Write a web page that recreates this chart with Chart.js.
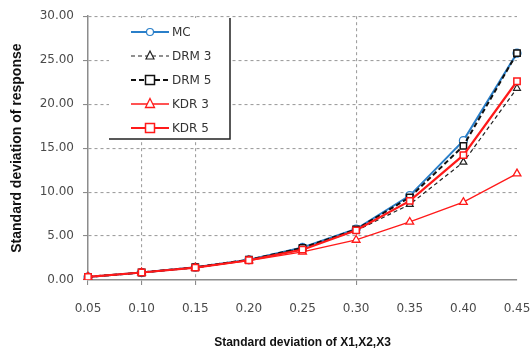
<!DOCTYPE html>
<html lang="en">
<head>
<meta charset="UTF-8">
<title>Standard deviation of response</title>
<script src="https://cdn.jsdelivr.net/npm/chart.js"></script>
<style>
  html, body { margin: 0; padding: 0; background: #fff; }
  #wrap { width: 532px; height: 356px; }
</style>
</head>
<body>
<div id="wrap"><canvas id="myChart" width="532" height="356"></canvas></div>

<script>
// standard deviation of the inputs X1,X2,X3
const sdInputs = ['0.05', '0.10', '0.15', '0.20', '0.25', '0.30', '0.35', '0.40', '0.45'];

// standard deviation of the response for each method
const mc   = [0.35, 0.85, 1.45, 2.30, 3.70, 5.80, 9.60, 15.85, 25.80];
const drm3 = [0.35, 0.85, 1.40, 2.25, 3.60, 5.60, 8.60, 13.40, 21.80];
const drm5 = [0.35, 0.85, 1.45, 2.30, 3.65, 5.75, 9.40, 15.25, 25.80];
const kdr3 = [0.35, 0.85, 1.40, 2.20, 3.20, 4.55, 6.60, 8.85, 12.10];
const kdr5 = [0.35, 0.85, 1.40, 2.25, 3.45, 5.65, 9.00, 14.20, 22.60];

// only these x positions carry a vertical grid line
const xGridAt = [1, 2, 5];

const gridGray = '#a0a0a0';
const axisGray = '#8c8c8c';

function drawMarker(ctx, style, x, y, r) {
  if (style === 'rect') {
    ctx.rect(x - r, y - r, 2 * r, 2 * r);
  } else if (style === 'triangle') {
    ctx.moveTo(x, y - r - 1);
    ctx.lineTo(x + r, y + r - 1);
    ctx.lineTo(x - r, y + r - 1);
    ctx.closePath();
  } else {
    ctx.arc(x, y, r - 0.5, 0, Math.PI * 2);
  }
}

// boxed legend in the upper left with line + marker samples
const boxLegend = {
  id: 'boxLegend',
  afterDraw(chart) {
    const ctx = chart.ctx;
    const box = { l: 109, t: 18, r: 230, b: 139 };
    ctx.save();
    ctx.fillStyle = '#fff';
    ctx.fillRect(box.l, box.t, box.r - box.l, box.b - box.t);
    ctx.strokeStyle = '#222';
    ctx.lineWidth = 1.5;
    ctx.beginPath();
    ctx.moveTo(box.r, box.t);
    ctx.lineTo(box.r, box.b);
    ctx.lineTo(box.l, box.b);
    ctx.stroke();

    const rowY = [32, 56, 80, 104, 128];
    chart.data.datasets.forEach((ds, i) => {
      const y = rowY[i];
      ctx.strokeStyle = ds.borderColor;
      ctx.lineWidth = ds.borderWidth;
      ctx.setLineDash(ds.borderDash || []);
      ctx.beginPath();
      ctx.moveTo(131, y);
      ctx.lineTo(169, y);
      ctx.stroke();
      ctx.setLineDash([]);
      ctx.fillStyle = '#fff';
      ctx.strokeStyle = ds.pointBorderColor;
      ctx.lineWidth = ds.pointBorderWidth;
      ctx.beginPath();
      drawMarker(ctx, ds.pointStyle, 150, y, ds.pointRadius);
      ctx.fill();
      ctx.stroke();
      ctx.fillStyle = '#333';
      ctx.font = '12px "DejaVu Sans"';
      ctx.textBaseline = 'middle';
      ctx.fillText(ds.label, 172, y + 1);
    });
    ctx.restore();
  }
};

const ctx = document.getElementById('myChart').getContext('2d');
new Chart(ctx, {
  type: 'line',
  data: {
    labels: sdInputs,
    datasets: [
      {
        label: 'MC', data: mc, order: 5,
        borderColor: '#2a7fc9', borderWidth: 2,
        pointStyle: 'circle', pointRadius: 4, pointBorderWidth: 1.2,
        pointBorderColor: '#2a7fc9', pointBackgroundColor: '#fff'
      },
      {
        label: 'DRM 3', data: drm3, order: 4,
        borderColor: '#222', borderWidth: 1.2, borderDash: [4, 3],
        pointStyle: 'triangle', pointRadius: 4, pointBorderWidth: 1.2,
        pointBorderColor: '#222', pointBackgroundColor: '#fff'
      },
      {
        label: 'DRM 5', data: drm5, order: 3,
        borderColor: '#111', borderWidth: 2, borderDash: [5, 3],
        pointStyle: 'rect', pointRadius: 4.5, pointBorderWidth: 1.5,
        pointBorderColor: '#111', pointBackgroundColor: '#fff'
      },
      {
        label: 'KDR 3', data: kdr3, order: 2,
        borderColor: '#ff1a1a', borderWidth: 1.3,
        pointStyle: 'triangle', pointRadius: 4.5, pointBorderWidth: 1.3,
        pointBorderColor: '#ff1a1a', pointBackgroundColor: '#fff'
      },
      {
        label: 'KDR 5', data: kdr5, order: 1,
        borderColor: '#ff1a1a', borderWidth: 2.2,
        pointStyle: 'rect', pointRadius: 4.5, pointBorderWidth: 1.5,
        pointBorderColor: '#ff1a1a', pointBackgroundColor: '#fff'
      }
    ]
  },
  options: {
    responsive: false,
    animation: false,
    devicePixelRatio: 1,
    layout: { padding: { top: 15, right: 0, left: 0, bottom: 0 } },
    plugins: {
      legend: { display: false },
      tooltip: { enabled: false }
    },
    elements: { line: { tension: 0 } },
    scales: {
      x: {
        type: 'category',
        offset: false,
        afterFit: s => {
          s.height = 76;
          s.paddingLeft = 0;
          s.paddingRight = 15;
        },
        border: { color: axisGray, width: 1.5, dash: [3, 3] },
        grid: {
          color: c => xGridAt.includes(c.index) ? gridGray : 'rgba(0,0,0,0)',
          tickColor: c => (c.index === 0 || xGridAt.includes(c.index)) ? axisGray : 'rgba(0,0,0,0)',
          lineWidth: 1.1,
          tickLength: 5,
          tickBorderDash: []
        },
        ticks: {
          color: '#4a4a4a',
          font: { family: '"DejaVu Sans"', size: 12 },
          padding: 17,
          maxRotation: 0,
          autoSkip: false
        },
        title: {
          display: true,
          text: 'Standard deviation of X1,X2,X3',
          color: '#111',
          font: { family: '"Liberation Sans"', size: 12, weight: 'bold' },
          padding: { top: 0, bottom: 6 }
        }
      },
      y: {
        min: 0,
        max: 30,
        afterFit: s => { s.width = 88; },
        border: { color: axisGray, width: 1.5, dash: [3, 3] },
        grid: {
          color: c => c.tick && c.tick.value === 0 ? 'rgba(0,0,0,0)' : gridGray,
          tickColor: axisGray,
          lineWidth: 1.1,
          tickLength: 5,
          tickBorderDash: []
        },
        ticks: {
          stepSize: 5,
          color: '#4a4a4a',
          font: { family: '"DejaVu Sans"', size: 12 },
          padding: 9,
          callback: v => Number(v).toFixed(2)
        },
        title: {
          display: true,
          text: 'Standard deviation of response',
          color: '#111',
          font: { family: '"Liberation Sans"', size: 14, weight: 'bold' },
          padding: { top: 9, bottom: 0 }
        }
      }
    }
  },
  plugins: [boxLegend]
});
</script>
</body>
</html>
